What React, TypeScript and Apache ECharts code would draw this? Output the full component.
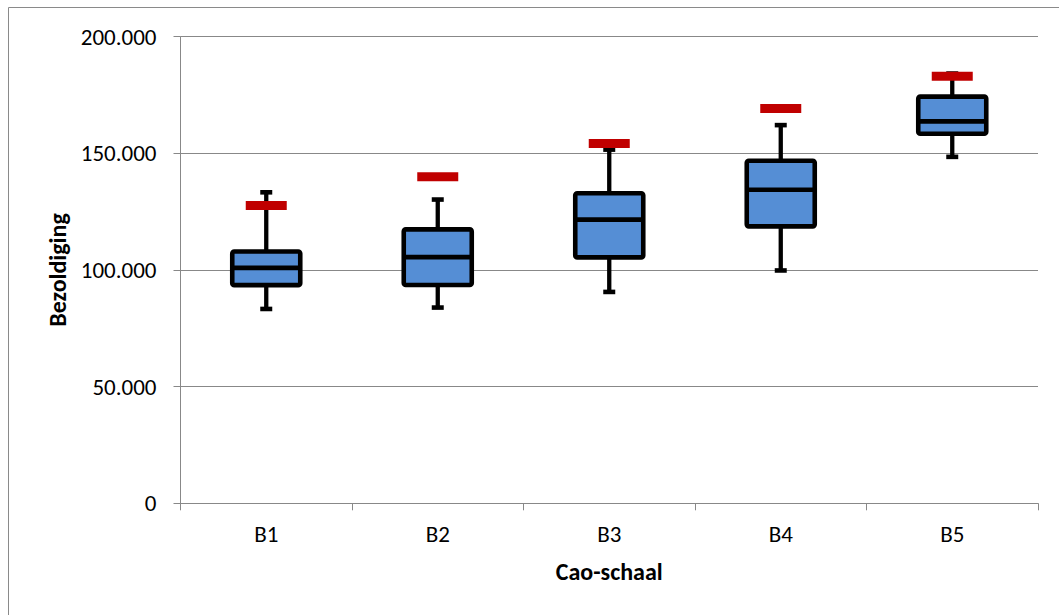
import React, { useEffect, useRef } from "react";
import * as echarts from "echarts";

const categories = ["B1", "B2", "B3", "B4", "B5"];
const whiskerLow = [83300, 83900, 90600, 99800, 148500];
const quartile1 = [93500, 93600, 105400, 118700, 158400];
const medians = [100900, 105500, 121600, 134400, 163700];
const quartile3 = [107900, 117400, 132900, 146800, 174300];
const whiskerHigh = [133300, 130200, 151600, 162100, 184200];
const redMarks = [127600, 140000, 154200, 169200, 183000];
const yTicks = [0, 50000, 100000, 150000, 200000];

const FONT = "Carlito, Lato, 'Open Sans', sans-serif";
const GRAY = "#888888";

function fmt(v: number): string {
  if (v === 0) return "0";
  const s = String(Math.round(v));
  return s.replace(/\B(?=(\d{3})+(?!\d))/g, ".");
}

export default function App() {
  const ref = useRef<HTMLDivElement>(null);

  useEffect(() => {
    document.body.style.margin = "0";
    document.body.style.overflow = "hidden";
    if (!ref.current) return;
    const chart = echarts.init(ref.current, undefined, { renderer: "svg" });

    const boxData = categories.map((_, i) => [
      i,
      whiskerLow[i],
      quartile1[i],
      medians[i],
      quartile3[i],
      whiskerHigh[i],
    ]);

    const option: any = {
      animation: false,
      backgroundColor: "#ffffff",
      grid: { left: 180.5, right: 21, top: 36.7, bottom: 111.7, containLabel: false },
      graphic: [
        {
          type: "rect",
          shape: { x: 8.5, y: 7.5, width: 1200, height: 800 },
          style: { fill: "none", stroke: "#8a8a8a", lineWidth: 1 },
          silent: true,
          z: -10,
        },
      ],
      xAxis: {
        type: "category",
        data: categories,
        boundaryGap: true,
        name: "Cao-schaal",
        nameLocation: "middle",
        nameGap: 56,
        nameTextStyle: { fontFamily: FONT, fontWeight: "bold", fontSize: 24, color: "#000" },
        axisLine: { show: true, lineStyle: { color: GRAY, width: 1 } },
        axisTick: { show: true, length: 7, inside: false, lineStyle: { color: GRAY, width: 1 } },
        axisLabel: { fontFamily: FONT, fontSize: 23, color: "#000", margin: 19 },
        splitLine: { show: false },
      },
      yAxis: {
        type: "value",
        min: yTicks[0],
        max: yTicks[yTicks.length - 1],
        interval: yTicks[1] - yTicks[0],
        name: "Bezoldiging",
        nameLocation: "middle",
        nameRotate: 90,
        nameGap: 111,
        nameTextStyle: { fontFamily: FONT, fontWeight: "bold", fontSize: 24, color: "#000" },
        axisLine: { show: true, lineStyle: { color: GRAY, width: 1 } },
        axisTick: { show: true, length: 7, inside: false, lineStyle: { color: GRAY, width: 1 } },
        axisLabel: {
          fontFamily: FONT,
          fontSize: 23,
          color: "#000",
          margin: 24,
          formatter: (v: number) => fmt(v),
        },
        splitLine: { show: true, lineStyle: { color: GRAY, width: 1 } },
      },
      series: [
        {
          type: "custom",
          name: "Bezoldiging",
          data: boxData,
          encode: { x: 0, y: [1, 2, 3, 4, 5] },
          z: 3,
          renderItem: (params: any, api: any) => {
            const idx = api.value(0);
            const low = api.coord([idx, api.value(1)]);
            const q1 = api.coord([idx, api.value(2)]);
            const med = api.coord([idx, api.value(3)]);
            const q3 = api.coord([idx, api.value(4)]);
            const high = api.coord([idx, api.value(5)]);
            const cx = low[0];
            const halfBox = 34;
            const halfCap = 6;
            const wStyle = { stroke: "#000", lineWidth: 4.3, fill: "none" };
            return {
              type: "group",
              children: [
                { type: "line", shape: { x1: cx, y1: q1[1], x2: cx, y2: low[1] }, style: wStyle },
                { type: "line", shape: { x1: cx, y1: q3[1], x2: cx, y2: high[1] }, style: wStyle },
                { type: "line", shape: { x1: cx - halfCap, y1: low[1], x2: cx + halfCap, y2: low[1] }, style: { ...wStyle, lineWidth: 4.6 } },
                { type: "line", shape: { x1: cx - halfCap, y1: high[1], x2: cx + halfCap, y2: high[1] }, style: { ...wStyle, lineWidth: 4.6 } },
                {
                  type: "rect",
                  shape: { x: cx - halfBox, y: q3[1], width: halfBox * 2, height: q1[1] - q3[1], r: 2 },
                  style: { fill: "#558ED5", stroke: "#000", lineWidth: 4.6, lineJoin: "round" },
                },
                {
                  type: "line",
                  shape: { x1: cx - halfBox, y1: med[1], x2: cx + halfBox, y2: med[1] },
                  style: { stroke: "#000", lineWidth: 4.6 },
                },
              ],
            };
          },
        },
        {
          type: "scatter",
          name: "Marker",
          data: redMarks,
          symbol: "rect",
          symbolSize: [41, 9],
          itemStyle: { color: "#C00000", opacity: 1 },
          z: 5,
        },
      ],
    };

    chart.setOption(option);
    return () => chart.dispose();
  }, []);

  return <div ref={ref} style={{ width: 1059, height: 615 }} />;
}
